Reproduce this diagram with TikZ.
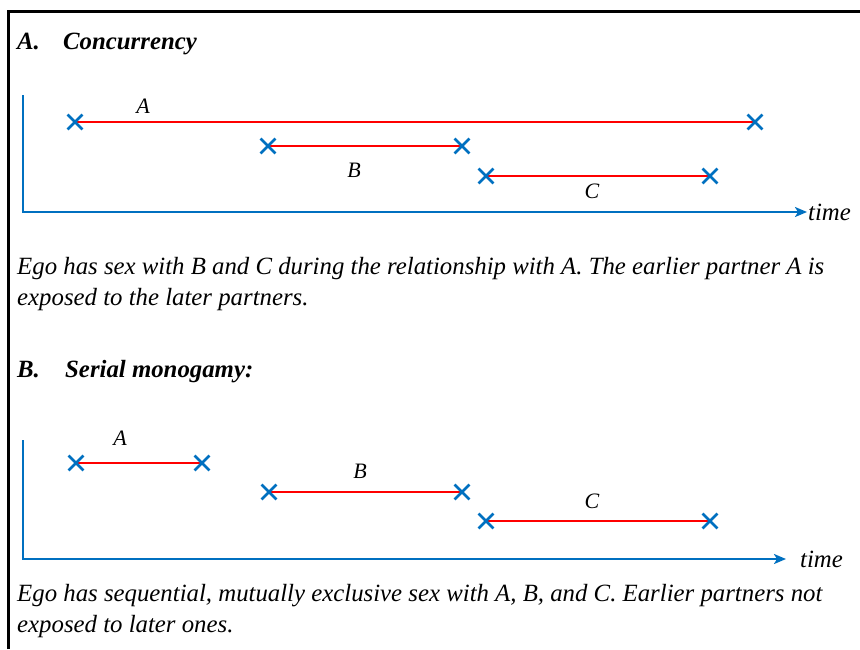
\documentclass[tikz,border=0pt]{standalone}
\usepackage{fontspec}
\setmainfont{Liberation Serif}
\usetikzlibrary{positioning,shapes.misc,arrows.meta,backgrounds}
\definecolor{axisblue}{RGB}{0,112,192}

\begin{document}
\begin{tikzpicture}
[
    x=1pt, y=-1pt,
    xmark/.style={cross out, draw=axisblue, line width=2.8pt, minimum size=12pt, inner sep=0pt},
    span/.style={red, line width=2.8pt},
    axis/.style={axisblue, line width=2.8pt, -{Stealth[length=12pt,width=10pt,inset=3pt]}},
    caption/.style={anchor=base west, inner sep=0pt, font=\fontsize{24.8}{29}\selectfont\itshape},
    heading/.style={anchor=base west, inner sep=0pt, font=\fontsize{24.8}{29}\selectfont\bfseries\itshape},
    partner/.style={anchor=base, inner sep=0pt, font=\fontsize{22}{26}\selectfont\itshape},
]
\useasboundingbox (0,0) rectangle (860,649);

% frame
\draw[line width=2.6pt] (8.7,649) -- (8.7,11.7) -- (860,11.7);

% A. concurrency
\node[heading] (headA) at (17,49) {A.};
\node[heading] (titleA) at (63,49) {Concurrency};

\coordinate (topA) at (23,95);
\coordinate (origA) at (23,212);
\coordinate (endA) at (807,212);
\draw[axis] (topA) -- (origA) -- (endA);
\node[caption, anchor=west, inner sep=1pt] (timeA) at (endA) {time};

\node[xmark] (aA1) at (75,122) {};
\node[xmark] (aA2) at (755,122) {};
\node[xmark] (aB1) at (268,146) {};
\node[xmark] (aB2) at (462,146) {};
\node[xmark] (aC1) at (486,176) {};
\node[xmark] (aC2) at (710,176) {};
\begin{scope}[on background layer]
    \draw[span] (aA1.center) -- (aA2.center);
    \draw[span] (aB1.center) -- (aB2.center);
    \draw[span] (aC1.center) -- (aC2.center);
\end{scope}
\node[partner] (labA1) at (143,113) {A};
\node[partner] (labB1) at (354,177) {B};
\node[partner] (labC1) at (592,198) {C};

\node[caption] (textA1) at (17,274) {Ego has sex with B and C during the relationship with A. The earlier partner A is};
\node[caption] (textA2) at (17,305) {exposed to the later partners.};

% B. serial monogamy
\node[heading] (headB) at (17,377) {B.};
\node[heading] (titleB) at (65,377) {Serial monogamy:};

\coordinate (topB) at (23,440);
\coordinate (origB) at (23,559);
\coordinate (endB) at (786,559);
\draw[axis] (topB) -- (origB) -- (endB);
\node[caption, anchor=west, inner sep=1pt] (timeB) at (799,559) {time};

\node[xmark] (bA1) at (76,463) {};
\node[xmark] (bA2) at (202,463) {};
\node[xmark] (bB1) at (269,492) {};
\node[xmark] (bB2) at (462,492) {};
\node[xmark] (bC1) at (486,521) {};
\node[xmark] (bC2) at (710,521) {};
\begin{scope}[on background layer]
    \draw[span] (bA1.center) -- (bA2.center);
    \draw[span] (bB1.center) -- (bB2.center);
    \draw[span] (bC1.center) -- (bC2.center);
\end{scope}
\node[partner] (labA2) at (120,445) {A};
\node[partner] (labB2) at (360,478) {B};
\node[partner] (labC2) at (592,508) {C};

\node[caption] (textB1) at (17,601) {Ego has sequential, mutually exclusive sex with A, B, and C. Earlier partners not};
\node[caption] (textB2) at (17,632) {exposed to later ones.};
\end{tikzpicture}
\end{document}
